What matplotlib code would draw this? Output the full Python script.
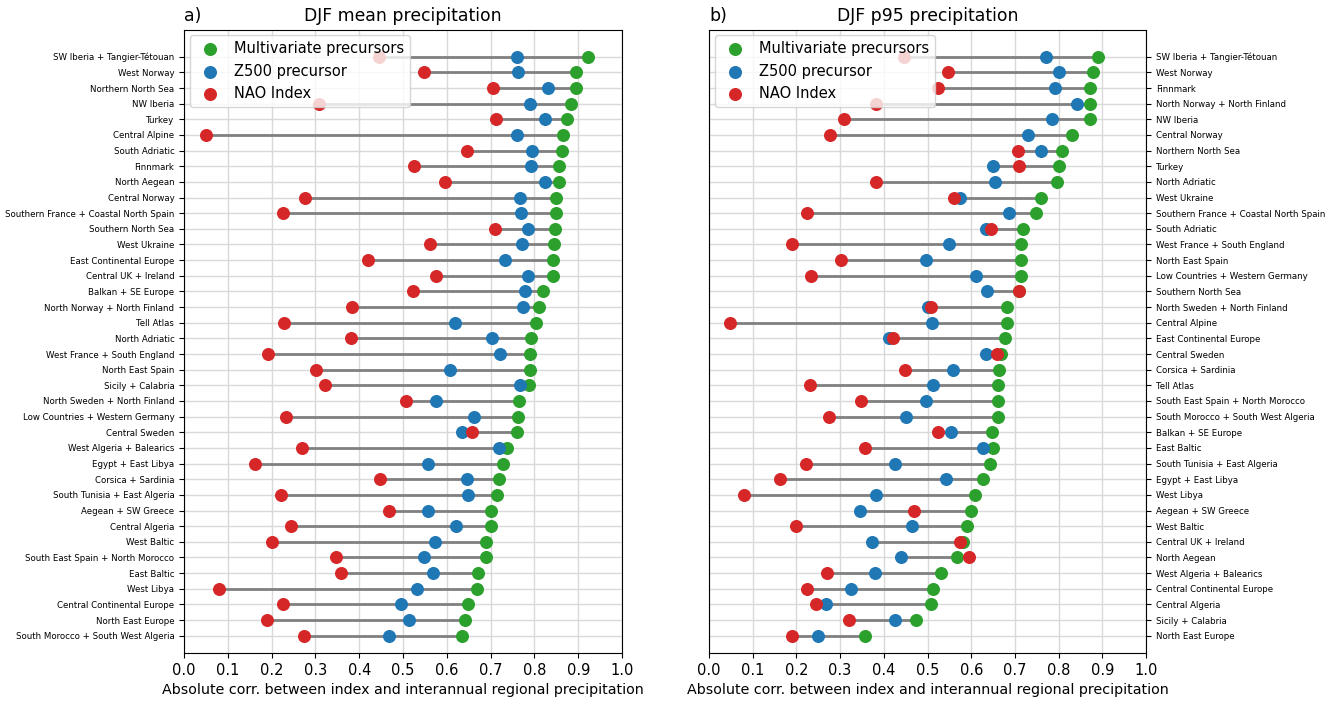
import numpy as np
import matplotlib
matplotlib.use('Agg')
import matplotlib.pyplot as plt

# Panel a) DJF mean precipitation (sorted top -> bottom)
regions_mean = ['SW Iberia + Tangier-Tétouan', 'West Norway', 'Northern North Sea', 'NW Iberia',
                'Turkey', 'Central Alpine', 'South Adriatic', 'Finnmark', 'North Aegean',
                'Central Norway', 'Southern France + Coastal North Spain', 'Southern North Sea',
                'West Ukraine', 'East Continental Europe', 'Central UK + Ireland',
                'Balkan + SE Europe', 'North Norway + North Finland', 'Tell Atlas',
                'North Adriatic', 'West France + South England', 'North East Spain',
                'Sicily + Calabria', 'North Sweden + North Finland',
                'Low Countries + Western Germany', 'Central Sweden', 'West Algeria + Balearics',
                'Egypt + East Libya', 'Corsica + Sardinia', 'South Tunisia + East Algeria',
                'Aegean + SW Greece', 'Central Algeria', 'West Baltic',
                'South East Spain + North Morocco', 'East Baltic', 'West Libya',
                'Central Continental Europe', 'North East Europe',
                'South Morocco + South West Algeria']
multi_mean = [0.922, 0.896, 0.896, 0.884, 0.875, 0.866, 0.864, 0.857, 0.855, 0.850,
              0.849, 0.847, 0.844, 0.843, 0.842, 0.820, 0.810, 0.803, 0.793, 0.790,
              0.790, 0.788, 0.764, 0.762, 0.761, 0.738, 0.729, 0.720, 0.714, 0.701,
              0.700, 0.690, 0.690, 0.671, 0.669, 0.648, 0.641, 0.634]
z500_mean = [0.760, 0.763, 0.831, 0.789, 0.825, 0.760, 0.795, 0.792, 0.825, 0.768,
             0.770, 0.786, 0.772, 0.732, 0.785, 0.778, 0.773, 0.619, 0.704, 0.721,
             0.607, 0.766, 0.576, 0.661, 0.635, 0.720, 0.558, 0.646, 0.648, 0.558,
             0.622, 0.574, 0.548, 0.568, 0.532, 0.495, 0.514, 0.467]
nao_mean = [0.446, 0.548, 0.706, 0.309, 0.712, 0.050, 0.647, 0.525, 0.595, 0.276,
            0.225, 0.710, 0.561, 0.421, 0.576, 0.523, 0.383, 0.229, 0.381, 0.191,
            0.302, 0.321, 0.507, 0.233, 0.658, 0.269, 0.162, 0.448, 0.222, 0.469,
            0.245, 0.200, 0.348, 0.358, 0.079, 0.225, 0.190, 0.274]

# Panel b) DJF p95 precipitation
regions_p95 = ['SW Iberia + Tangier-Tétouan', 'West Norway', 'Finnmark',
               'North Norway + North Finland', 'NW Iberia', 'Central Norway',
               'Northern North Sea', 'Turkey', 'North Adriatic', 'West Ukraine',
               'Southern France + Coastal North Spain', 'South Adriatic',
               'West France + South England', 'North East Spain',
               'Low Countries + Western Germany', 'Southern North Sea',
               'North Sweden + North Finland', 'Central Alpine', 'East Continental Europe',
               'Central Sweden', 'Corsica + Sardinia', 'Tell Atlas',
               'South East Spain + North Morocco', 'South Morocco + South West Algeria',
               'Balkan + SE Europe', 'East Baltic', 'South Tunisia + East Algeria',
               'Egypt + East Libya', 'West Libya', 'Aegean + SW Greece', 'West Baltic',
               'Central UK + Ireland', 'North Aegean', 'West Algeria + Balearics',
               'Central Continental Europe', 'Central Algeria', 'Sicily + Calabria',
               'North East Europe']
multi_p95 = [0.890, 0.878, 0.873, 0.872, 0.871, 0.830, 0.808, 0.801, 0.796, 0.759,
             0.748, 0.718, 0.715, 0.715, 0.713, 0.709, 0.681, 0.681, 0.678, 0.669,
             0.664, 0.662, 0.661, 0.661, 0.648, 0.649, 0.644, 0.626, 0.608, 0.599,
             0.590, 0.582, 0.567, 0.530, 0.512, 0.507, 0.473, 0.357]
z500_p95 = [0.772, 0.801, 0.792, 0.843, 0.785, 0.729, 0.759, 0.650, 0.655, 0.574,
            0.686, 0.634, 0.549, 0.496, 0.612, 0.636, 0.501, 0.511, 0.412, 0.635,
            0.559, 0.512, 0.496, 0.450, 0.553, 0.628, 0.425, 0.542, 0.383, 0.346,
            0.464, 0.372, 0.439, 0.379, 0.325, 0.267, 0.425, 0.250]
nao_p95 = [0.447, 0.547, 0.525, 0.382, 0.309, 0.277, 0.706, 0.710, 0.382, 0.560,
           0.224, 0.646, 0.191, 0.302, 0.233, 0.709, 0.507, 0.049, 0.422, 0.659,
           0.448, 0.230, 0.348, 0.275, 0.524, 0.358, 0.223, 0.163, 0.079, 0.469,
           0.200, 0.575, 0.594, 0.269, 0.225, 0.245, 0.321, 0.191]


def lollipop(ax, regions, multi, z500, nao, title, letter):
  n = len(regions)
  y = np.arange(n)[::-1]
  vals = np.vstack([multi, z500, nao])
  ax.grid(True, color='#d9d9d9', lw=1, zorder=0)
  ax.hlines(y, vals.min(axis=0), vals.max(axis=0), color='grey', lw=2, zorder=2)
  ax.scatter(multi, y, s=70, color='tab:green', zorder=3, label='Multivariate precursors')
  ax.scatter(z500, y, s=70, color='tab:blue', zorder=4, label='Z500 precursor')
  ax.scatter(nao, y, s=70, color='tab:red', zorder=5, label='NAO Index')
  ax.set_yticks(y)
  ax.set_yticklabels(regions, fontsize=6.2)
  ax.set_ylim(-1.1, n + 0.73)
  ax.set_xlim(0, 1)
  ticks = np.arange(0, 1.01, 0.1)
  ax.set_xticks(ticks)
  ax.set_xticklabels(['%.1f' % v for v in ticks], fontsize=10.5)
  ax.set_xlabel('Absolute corr. between index and interannual regional precipitation', fontsize=10.3)
  ax.set_title(title, fontsize=12.4)
  ax.set_title(letter, loc='left', fontsize=12.4)
  ax.legend(loc='upper left', fontsize=10.5, borderaxespad=0.4, handletextpad=0.6)


fig = plt.figure(figsize=(13.38, 7.14), dpi=100)
ax1 = fig.add_axes([0.1375, 0.0855, 0.3274, 0.873])
ax2 = fig.add_axes([0.5299, 0.0855, 0.3266, 0.873])

lollipop(ax1, regions_mean, multi_mean, z500_mean, nao_mean, 'DJF mean precipitation', 'a)')
lollipop(ax2, regions_p95, multi_p95, z500_p95, nao_p95, 'DJF p95 precipitation', 'b)')
ax2.yaxis.tick_right()

plt.savefig('out.png', dpi=100)
